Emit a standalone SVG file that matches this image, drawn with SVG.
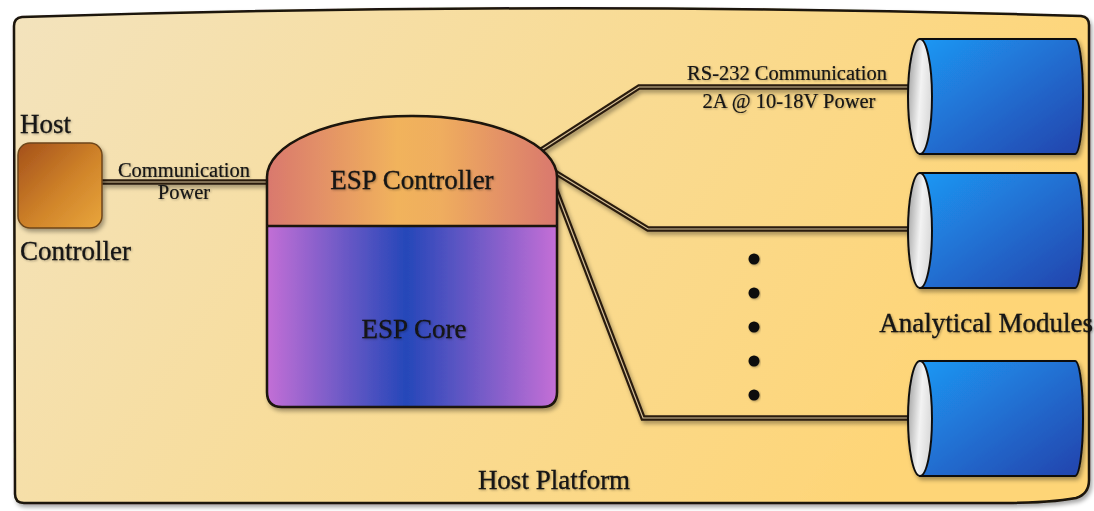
<svg xmlns="http://www.w3.org/2000/svg" width="1094" height="511" viewBox="0 0 1094 511">
  <defs>
    <linearGradient id="bgGrad" x1="0" y1="0" x2="1" y2="0.3">
      <stop offset="0" stop-color="#f3e3bd"/>
      <stop offset="0.5" stop-color="#f8dc98"/>
      <stop offset="1" stop-color="#fed577"/>
    </linearGradient>
    <linearGradient id="hostGrad" x1="0" y1="0" x2="1" y2="1">
      <stop offset="0" stop-color="#a4501a"/>
      <stop offset="0.55" stop-color="#d0842a"/>
      <stop offset="1" stop-color="#e9a63c"/>
    </linearGradient>
    <linearGradient id="ctrlGrad" x1="0" y1="0" x2="1" y2="0">
      <stop offset="0" stop-color="#d9786e"/>
      <stop offset="0.45" stop-color="#f1b35c"/>
      <stop offset="0.6" stop-color="#efad5e"/>
      <stop offset="1" stop-color="#d9786e"/>
    </linearGradient>
    <linearGradient id="coreGrad" x1="0" y1="0" x2="1" y2="0">
      <stop offset="0" stop-color="#c36fd6"/>
      <stop offset="0.48" stop-color="#2547b9"/>
      <stop offset="1" stop-color="#c56fd6"/>
    </linearGradient>
    <linearGradient id="cylGrad" x1="0" y1="0" x2="1" y2="1">
      <stop offset="0" stop-color="#1e98f4"/>
      <stop offset="1" stop-color="#2443ac"/>
    </linearGradient>
    <linearGradient id="capGrad" x1="0" y1="0" x2="1" y2="0.3">
      <stop offset="0" stop-color="#9a9a9a"/>
      <stop offset="0.6" stop-color="#f3f3f3"/>
      <stop offset="1" stop-color="#dcdcdc"/>
    </linearGradient>
    <filter id="shadow" x="-10%" y="-10%" width="130%" height="130%">
      <feDropShadow dx="2" dy="3" stdDeviation="2" flood-color="#000" flood-opacity="0.35"/>
    </filter>
    <filter id="tshadow" x="-10%" y="-20%" width="120%" height="150%">
      <feDropShadow dx="1" dy="1" stdDeviation="0.8" flood-color="#000" flood-opacity="0.3"/>
    </filter>
  </defs>
  <style>
    .big { font-family: "Liberation Serif", "Times New Roman", serif; font-size: 27px; fill: #141414; stroke: #141414; stroke-width: 0.3; }
    .small { font-family: "Liberation Serif", "Times New Roman", serif; font-size: 20.5px; fill: #141414; stroke: #141414; stroke-width: 0.2; }
    .cableOuter { fill: none; stroke: #2a1c10; stroke-width: 5.5; stroke-linejoin: miter; }
    .cableInner { fill: none; stroke: #d8c298; stroke-width: 1.2; stroke-linejoin: miter; }
    .outline { stroke: #1a1208; stroke-width: 2.5; }
    .cyl { fill: url(#cylGrad); stroke: #111; stroke-width: 2; }
    .cap { fill: url(#capGrad); stroke: #111; stroke-width: 2; }
    .dot { fill: #0a0a0a; }
  </style>

  <g id="host-platform">
    <path d="M 22,17 Q 550,0 1081,16 Q 1089,17 1089,25 L 1089,480 Q 1089,494 1076,498 Q 1050,503 1000,503 L 24,503 Q 15,503 15,494 L 14,26 Q 14,18 22,17 Z" fill="url(#bgGrad)" stroke="#1a1208" stroke-width="2.5" filter="url(#shadow)"/>
    <text class="big" x="554" y="489" text-anchor="middle" filter="url(#tshadow)">Host Platform</text>
  </g>

  <g id="connectors" filter="url(#shadow)">
    <polyline class="cableOuter" points="102,182 275,182"/>
    <polyline class="cableInner" points="102,182 275,182"/>
    <polyline class="cableOuter" points="535,154 639,87 914,87"/>
    <polyline class="cableInner" points="535,154 639,87 914,87"/>
    <polyline class="cableOuter" points="545,166 648,229 914,229"/>
    <polyline class="cableInner" points="545,166 648,229 914,229"/>
    <polyline class="cableOuter" points="549,172 643,418 914,418"/>
    <polyline class="cableInner" points="549,172 643,418 914,418"/>
  </g>
  <g id="connector-labels">
    <text class="small" x="184" y="177" text-anchor="middle" filter="url(#tshadow)">Communication</text>
    <text class="small" x="184" y="199" text-anchor="middle" filter="url(#tshadow)">Power</text>
    <text class="small" x="787" y="80" text-anchor="middle" filter="url(#tshadow)">RS-232 Communication</text>
    <text class="small" x="789" y="108" text-anchor="middle" filter="url(#tshadow)">2A @ 10-18V Power</text>
  </g>

  <g id="host-controller">
    <rect x="18" y="143" width="84" height="85" rx="12" fill="url(#hostGrad)" stroke="#6e461a" stroke-width="1.5" filter="url(#shadow)"/>
    <text class="big" x="20" y="133" filter="url(#tshadow)">Host</text>
    <text class="big" x="20" y="260" filter="url(#tshadow)">Controller</text>
  </g>

  <g id="esp-module" filter="url(#shadow)">
    <path d="M 267,226 L 267,177 A 145 61 0 0 1 557,177 L 557,226 Z" fill="url(#ctrlGrad)"/>
    <path d="M 267,226 L 557,226 L 557,392 Q 557,407 542,407 L 282,407 Q 267,407 267,392 Z" fill="url(#coreGrad)"/>
    <path d="M 267,177 A 145 61 0 0 1 557,177 L 557,392 Q 557,407 542,407 L 282,407 Q 267,407 267,392 Z" fill="none" class="outline"/>
    <line x1="267" y1="226" x2="557" y2="226" class="outline"/>
  </g>
  <g id="esp-controller">
    <text class="big" x="412" y="189" text-anchor="middle" filter="url(#tshadow)">ESP Controller</text>
  </g>
  <g id="esp-core">
    <text class="big" x="414" y="338" text-anchor="middle" filter="url(#tshadow)">ESP Core</text>
  </g>

  <g id="module-1" filter="url(#shadow)">
    <path class="cyl" d="M 920,39 L 1075,39 A 8 57.5 0 0 1 1075,154 L 920,154 Z"/>
    <ellipse class="cap" cx="920" cy="96.5" rx="12" ry="57.5"/>
  </g>
  <g id="module-2" filter="url(#shadow)">
    <path class="cyl" d="M 920,173 L 1075,173 A 8 57.5 0 0 1 1075,288 L 920,288 Z"/>
    <ellipse class="cap" cx="920" cy="230.5" rx="12" ry="57.5"/>
  </g>
  <g id="module-3" filter="url(#shadow)">
    <path class="cyl" d="M 920,361 L 1075,361 A 8 57.5 0 0 1 1075,476 L 920,476 Z"/>
    <ellipse class="cap" cx="920" cy="418.5" rx="12" ry="57.5"/>
  </g>

  <g id="ellipsis" filter="url(#tshadow)">
    <circle class="dot" cx="754" cy="259" r="5.5"/>
    <circle class="dot" cx="754" cy="293" r="5.5"/>
    <circle class="dot" cx="754" cy="327" r="5.5"/>
    <circle class="dot" cx="754" cy="361" r="5.5"/>
    <circle class="dot" cx="754" cy="395" r="5.5"/>
  </g>

  <g id="analytical-modules-label">
    <text class="big" x="1093" y="332" text-anchor="end" filter="url(#tshadow)">Analytical Modules</text>
  </g>
</svg>
